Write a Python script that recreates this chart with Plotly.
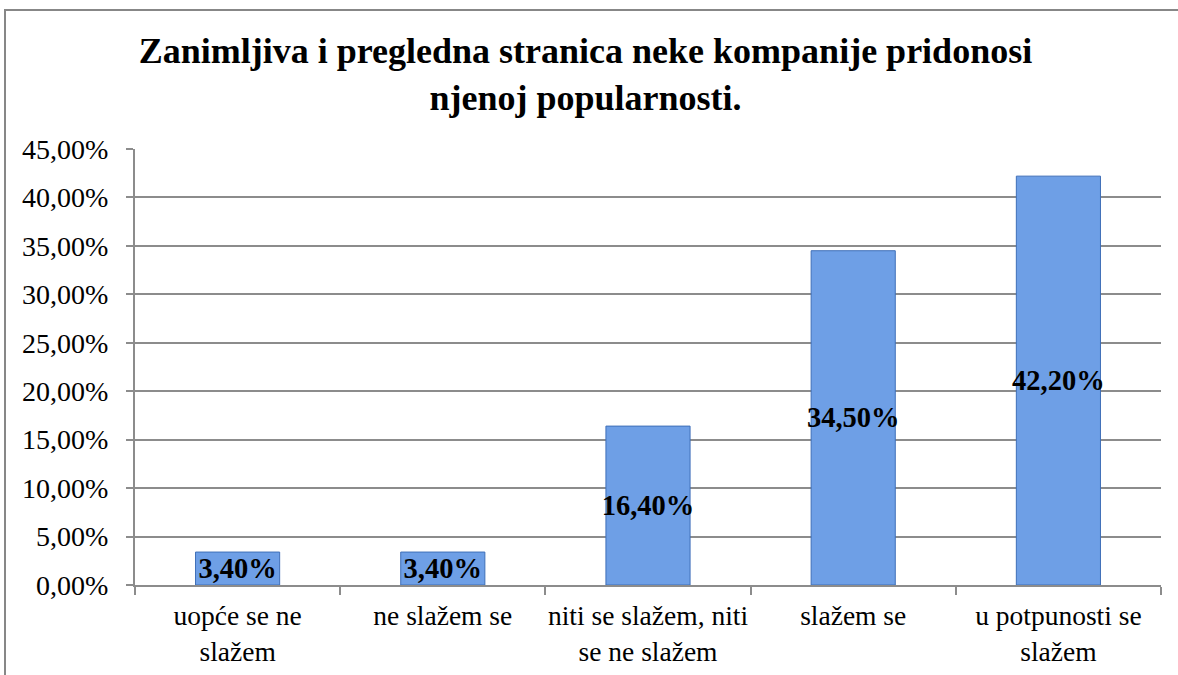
import plotly.graph_objects as go

categories = ["uopće se ne<br>slažem", "ne slažem se", "niti se slažem, niti<br>se ne slažem",
              "slažem se", "u potpunosti se<br>slažem"]
values = [0.034, 0.034, 0.164, 0.345, 0.422]
value_labels = ["3,40%", "3,40%", "16,40%", "34,50%", "42,20%"]
title_text = "Zanimljiva i pregledna stranica neke kompanije pridonosi<br>njenoj popularnosti."

SERIF = "'Liberation Serif', 'Times New Roman', Times, 'DejaVu Serif', serif"
GRID = "#8c8c8c"

fig = go.Figure()
fig.add_trace(go.Bar(
    x=categories, y=values,
    text=value_labels, textposition="inside", insidetextanchor="middle",
    textangle=0, constraintext="none",
    textfont=dict(family=SERIF, size=28.5, color="black", weight="bold"),
    marker=dict(color="#6e9fe6", line=dict(color="#3f6fb8", width=1)),
    width=0.41, hoverinfo="skip",
))

fig.update_layout(
    width=1178, height=675,
    margin=dict(l=135, r=17, t=149, b=90, autoexpand=False),
    paper_bgcolor="white", plot_bgcolor="white",
    showlegend=False,
    title=dict(text=title_text, x=0.497, xanchor="center", y=0.907, yanchor="top",
               yref="container", automargin=False,
               font=dict(family=SERIF, size=36, color="black", weight="bold")),
    font=dict(family=SERIF, size=28, color="black"),
    separators=",.",
)
fig.update_xaxes(
    showgrid=False, showline=True, linecolor=GRID, linewidth=2,
    ticks="outside", tickson="boundaries", ticklen=8, tickcolor=GRID, tickwidth=2,
    ticklabelstandoff=5, tickangle=0, automargin=False,
    tickfont=dict(family=SERIF, size=27.5, color="black"),
)
fig.update_yaxes(
    range=[0, 0.45], dtick=0.05, tickformat=".2%",
    showgrid=True, gridcolor=GRID, gridwidth=2,
    showline=True, linecolor=GRID, linewidth=2,
    ticks="outside", ticklen=7, tickcolor=GRID, tickwidth=2,
    ticklabelstandoff=12, zeroline=False, automargin=False,
    tickfont=dict(family=SERIF, size=28, color="black"),
)
# outer chart border
fig.add_shape(type="rect", xref="paper", yref="paper",
              x0=(5 - 135) / 1026, x1=(1190 - 135) / 1026,
              y0=(585 - 700) / 436, y1=(585 - 10) / 436,
              line=dict(color="#878787", width=2), fillcolor="rgba(0,0,0,0)", layer="above")

fig.write_html("out.html", config={"displayModeBar": False},
               post_script="document.body.style.margin='0';")
